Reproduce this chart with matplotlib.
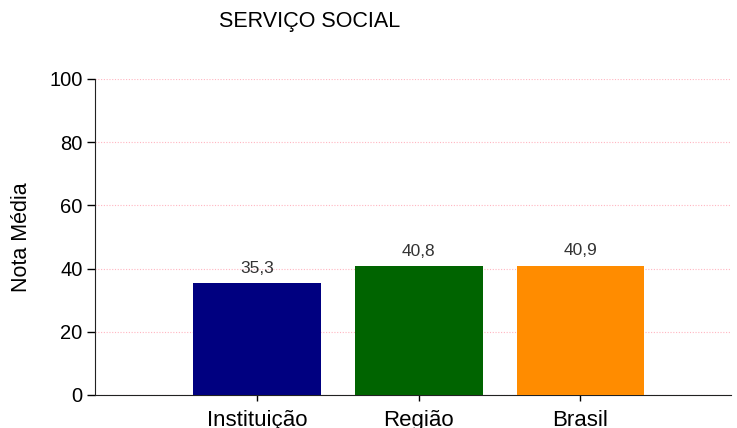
import matplotlib
matplotlib.use("Agg")
import matplotlib.pyplot as plt

categories = ["Instituição", "Região", "Brasil"]
values = [35.3, 40.8, 40.9]
labels = ["35,3", "40,8", "40,9"]
colors = ["#000080", "#006400", "#FF8C00"]
yticks = [0, 20, 40, 60, 80, 100]

plt.rcParams['font.family'] = ['Liberation Sans', 'DejaVu Sans']

fig = plt.figure(figsize=(7.37, 4.28), dpi=100)
ax = fig.add_axes([95/737, 33/428, (731-95)/737, (395-79)/428])

pos = [1, 2, 3]
ax.bar(pos, values, width=0.79, color=colors, zorder=3)
for p, v, l in zip(pos, values, labels):
    ax.text(p, v + 2.3, l, ha='center', va='bottom', fontsize=12.5, color='#333333')

ax.set_xlim(0, 3.93)
ax.set_ylim(0, 100)
ax.set_xticks(pos)
ax.set_xticklabels(categories, fontsize=16)
ax.set_yticks(yticks)
ax.set_yticklabels([str(t) for t in yticks], fontsize=14.5)
ax.yaxis.grid(True, linestyle=(0, (1, 1.5)), color='#FFB6C1', linewidth=0.8, zorder=0)
for s in ['top', 'right']:
    ax.spines[s].set_visible(False)
ax.spines['left'].set_color('#222222')
ax.spines['bottom'].set_color('#222222')
ax.tick_params(axis='y', length=6, width=1, pad=3)
ax.tick_params(axis='x', length=4, width=1, pad=7)
ax.set_ylabel("Nota Média", fontsize=15.5, labelpad=12)
fig.text(310/737, 1 - 22/428, "SERVIÇO SOCIAL", ha='center', va='center', fontsize=15.5)

fig.savefig("out.png", dpi=100)
